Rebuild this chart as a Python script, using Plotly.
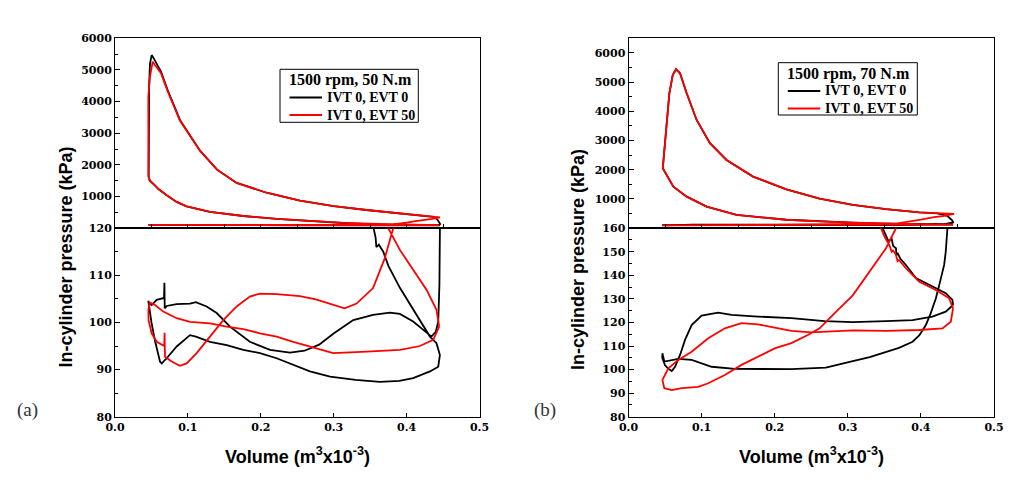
import plotly.graph_objects as go

# ---------------- data (volume in m3 x10^-3, pressure in kPa) ----------------
a_black_v = [0.4457, 0.441, 0.432, 0.4137, 0.391, 0.375, 0.368, 0.362, 0.3585, 0.3575, 0.3547,
             0.313, 0.2674, 0.2217, 0.176, 0.1303, 0.0983, 0.0846, 0.0709, 0.0600, 0.0526, 0.0480,
             0.0462, 0.0462, 0.0468, 0.0480, 0.0503, 0.0535, 0.0580, 0.0631, 0.0722, 0.0891, 0.1166,
             0.1400, 0.1669, 0.208, 0.2537, 0.2999, 0.345, 0.391, 0.4200, 0.4365, 0.4420, 0.4450,
             0.4457, 0.4457, 0.4450, 0.4434, 0.440, 0.434, 0.420, 0.409, 0.3908, 0.377, 0.354,
             0.3268, 0.2994, 0.280, 0.260, 0.240, 0.2126, 0.185, 0.1577, 0.1395, 0.1257, 0.111,
             0.1029, 0.0846, 0.0709, 0.0682, 0.0678, 0.0672, 0.0572, 0.0503, 0.0465, 0.0457, 0.050,
             0.055, 0.0617, 0.064, 0.0709, 0.0846, 0.1029, 0.111, 0.1303, 0.1532, 0.176, 0.1988,
             0.2217, 0.2445, 0.2674, 0.295, 0.330, 0.3634, 0.390, 0.409, 0.432, 0.4434, 0.4457]
a_black_p = [93.1, 95.6, 97.0, 101.6, 107.3, 112.0, 115.0, 116.5, 116.0, 118.0, 120.0,
             165, 230, 295, 385, 515, 690, 830, 1040, 1230, 1400, 1500,
             1620, 3000, 4500, 5200, 5470, 5350, 5150, 4950, 4365, 3420, 2450,
             1850, 1430, 1120, 870, 700, 575, 470, 410, 360, 280, 200,
             148, 120, 108, 100.2, 98.0, 97.0, 98.8, 100.2, 101.8, 102.1, 101.6,
             100.5, 97.6, 95.3, 94.0, 93.6, 94.2, 95.9, 99.1, 102.0, 103.4, 104.3,
             104.0, 103.9, 103.5, 103.0, 108.4, 105.2, 104.8, 103.7, 104.2, 104.6, 100.0,
             96.0, 91.7, 91.3, 92.4, 94.9, 97.3, 97.0, 95.9, 95.2, 94.2, 93.5,
             92.4, 91.0, 89.6, 88.5, 87.8, 87.4, 87.6, 88.2, 89.6, 90.6, 93.1]

a_red_v = [0.4447, 0.441, 0.4275, 0.409, 0.3908, 0.3748, 0.350, 0.313, 0.2674, 0.2217, 0.176,
           0.1303, 0.0983, 0.0846, 0.0709, 0.0600, 0.0526, 0.0475, 0.0458, 0.0457, 0.0457, 0.0480,
           0.0517, 0.0550, 0.0631, 0.0722, 0.0891, 0.1166, 0.1400, 0.1669, 0.208, 0.2537, 0.2999,
           0.345, 0.391, 0.4200, 0.4365, 0.4457, 0.4350, 0.4228, 0.410, 0.400, 0.390, 0.3817,
           0.370, 0.354, 0.3314, 0.315, 0.2994, 0.2754, 0.2537, 0.2217, 0.1988, 0.185, 0.1669,
           0.1485, 0.1303, 0.112, 0.0983, 0.0891, 0.0777, 0.0686, 0.0680, 0.0675, 0.0572, 0.0503,
           0.0460, 0.0458, 0.0480, 0.0549, 0.0662, 0.0846, 0.1029, 0.1303, 0.1532, 0.176, 0.1988,
           0.2217, 0.2445, 0.2674, 0.2994, 0.345, 0.391, 0.4183, 0.4365, 0.4447]
a_red_p = [99.1, 102.7, 106.9, 111.1, 115.4, 120.0, 140, 170, 230, 295, 385,
           515, 690, 830, 1040, 1230, 1400, 1500, 1650, 2800, 4150, 4800,
           5260, 5150, 4900, 4330, 3400, 2450, 1850, 1430, 1120, 870, 700,
           575, 470, 410, 380, 340, 295, 263, 215, 175, 140, 120,
           113.6, 107.3, 104.0, 103.0, 103.8, 104.9, 105.6, 106.0, 106.1, 105.5, 103.4,
           100.5, 97.0, 93.5, 91.3, 90.8, 91.7, 92.7, 97.8, 95.0, 95.9, 97.7,
           100.5, 102.7, 104.2, 103.7, 102.3, 100.9, 100.1, 99.8, 99.1, 98.6, 97.7,
           97.0, 95.9, 94.9, 93.5, 93.8, 94.2, 95.0, 96.3, 99.1]

b_black_v = [0.444, 0.4431, 0.434, 0.4158, 0.3932, 0.3795, 0.372, 0.368, 0.3665, 0.3659, 0.362,
             0.3600, 0.3555, 0.3477, 0.3068, 0.2614, 0.216, 0.1478, 0.1069, 0.0796, 0.0614, 0.0469,
             0.0487, 0.0523, 0.0559, 0.0605, 0.065, 0.0705, 0.0796, 0.0932, 0.1114, 0.1341, 0.1704,
             0.216, 0.2614, 0.3068, 0.3523, 0.3977, 0.4226, 0.4360, 0.4431, 0.4440, 0.4400, 0.4363,
             0.4340, 0.4318, 0.4260, 0.4205, 0.4130, 0.4068, 0.3977, 0.3886, 0.370, 0.3523, 0.330,
             0.3068, 0.290, 0.270, 0.2228, 0.1772, 0.1455, 0.1137,
             0.0864, 0.0682, 0.049, 0.0464, 0.0462, 0.050, 0.0545, 0.0592, 0.0637, 0.0705, 0.0773,
             0.0864, 0.100, 0.1227, 0.141, 0.1772, 0.2228, 0.2682, 0.3068, 0.3523, 0.3886, 0.4158,
             0.434, 0.444]
b_black_p = [127.4, 129.6, 132.4, 135.2, 138.8, 144.4, 147.0, 149.5, 148.5, 151.5, 152.5,
             155.5, 154.5, 160, 190, 235, 290, 455, 739, 1081, 1423, 2053,
             2566, 3705, 4618, 5244, 5439, 5302, 4618, 3705, 2908, 2337, 1765,
             1330, 1010, 800, 650, 540, 505, 420, 260, 200, 170, 160,
             150.0, 144.4, 137.0, 130.3, 123.5, 118.9, 114.5, 111.8, 109.2, 107.6, 105.3,
             103.6, 102.3, 100.8, 100.2, 100.3, 100.3, 101.2,
             104.1, 104.5, 103.4, 106.9, 105.0, 101.8, 100.3, 99.4, 101.2, 106.2, 112.6,
             118.9, 122.9, 124.2, 123.2, 122.5, 121.8, 120.6, 120.1, 120.6, 121.0, 122.5,
             124.6, 127.4]

b_red_v = [0.444, 0.4386, 0.4205, 0.3977, 0.3795, 0.3700, 0.3680, 0.3659, 0.3620, 0.3600, 0.3568,
           0.3500, 0.3455, 0.3068, 0.2614, 0.216, 0.1478, 0.1069, 0.0796, 0.0614, 0.0469, 0.0487,
           0.0523, 0.0559, 0.0605, 0.065, 0.0705, 0.0796, 0.0932, 0.1114, 0.1341, 0.1704, 0.216,
           0.2614, 0.3068, 0.3523, 0.3977, 0.4226, 0.4360, 0.4454, 0.4300, 0.418, 0.400, 0.380,
           0.3659, 0.3523, 0.3295, 0.3068, 0.2841, 0.2614, 0.2454, 0.2228, 0.200, 0.1772, 0.1546,
           0.1318, 0.1091, 0.0954, 0.0728, 0.0592, 0.049, 0.0464, 0.0545, 0.0682, 0.0864, 0.1091,
           0.1318, 0.1546, 0.1772, 0.200, 0.2228, 0.250, 0.3068, 0.3523, 0.3977, 0.4295, 0.4409,
           0.444]
b_red_p = [126.0, 130.3, 133.8, 137.3, 143.0, 146.5, 146.0, 148.7, 150.5, 150.0, 152.9,
           156.5, 160, 190, 235, 290, 455, 739, 1081, 1423, 2053, 2566,
           3705, 4618, 5244, 5439, 5302, 4618, 3705, 2908, 2337, 1765, 1330,
           1010, 800, 650, 540, 505, 480, 489, 410, 376, 290, 200,
           160, 151.5, 141.6, 131.5, 124.6, 117.5, 114.7, 111.2, 109.0, 105.5, 102.0,
           97.7, 94.2, 92.7, 92.1, 91.3, 92.1, 95.6, 100.5, 104.1, 107.6, 113.3,
           117.5, 119.7, 119.2, 117.8, 116.4, 115.8, 116.6, 116.4, 116.8, 117.5, 120.3,
           126.0]

series_names = ["IVT 0, EVT 0", "IVT 0, EVT 50"]
series_colors = ["#000000", "#ff0000"]
legend_titles = ["1500 rpm, 50 N.m", "1500 rpm, 70 N.m"]
upper_ticks = [1000, 2000, 3000, 4000, 5000, 6000]
a_lower_ticks = [80, 90, 100, 110, 120]
b_lower_ticks = [80, 90, 100, 110, 120, 130, 140, 150, 160]

# ---------------- figure ----------------
fig = go.Figure()

def add_pair(v, p, color, name, up, lo):
    for ax in (up, lo):
        fig.add_trace(go.Scatter(x=v, y=p, mode="lines", name=name,
                                 line=dict(color=color, width=1.8),
                                 xaxis=ax[0], yaxis=ax[1], showlegend=False))

add_pair(a_black_v, a_black_p, series_colors[0], series_names[0], ("x", "y"), ("x2", "y2"))
add_pair(a_red_v, a_red_p, series_colors[1], series_names[1], ("x", "y"), ("x2", "y2"))
add_pair(b_black_v, b_black_p, series_colors[0], series_names[0], ("x3", "y3"), ("x4", "y4"))
add_pair(b_red_v, b_red_p, series_colors[1], series_names[1], ("x3", "y3"), ("x4", "y4"))

# the page body has an 8px margin; the figure is sized so it fills the 1024x486 window
OFF = 8
W, H = 1024 - OFF, 486 - OFF
def px_x(v):
    return (v - OFF) / W
def px_y(v):
    return 1 - (v - OFF) / H

tickfont = dict(family="DejaVu Serif", size=11, color="black", weight="bold")
axis_common = dict(showline=True, linecolor="black", linewidth=1, mirror=True,
                   showgrid=False, zeroline=False, ticks="inside", tickcolor="black",
                   tickwidth=1, tickfont=tickfont, automargin=False)

xa = [px_x(115), px_x(479.5)]
xb = [px_x(628.5), px_x(994)]
y_up = [px_y(228.2), px_y(38.3)]
y_lo = [px_y(416.7), px_y(228.2)]

def upper_x(domain, anchor):
    return dict(axis_common, domain=domain, anchor=anchor, range=[0, 0.5],
                tickmode="linear", tick0=0, dtick=0.05, ticklen=4, showticklabels=False)

def lower_x(domain, anchor):
    return dict(axis_common, domain=domain, anchor=anchor, range=[0, 0.5],
                tickmode="linear", tick0=0, dtick=0.1, ticklen=4, tickformat=".1f")

def upper_y(anchor, top):
    minors = [m for m in range(500, top + 1, 1000)]
    return dict(axis_common, domain=y_up, anchor=anchor, range=[0, top],
                tickmode="array", tickvals=upper_ticks, ticklen=5,
                minor=dict(tickmode="array", tickvals=minors, ticks="inside", ticklen=3,
                           tickcolor="black", showgrid=False))

def lower_y(anchor, ticks):
    minors = [t + 5 for t in ticks[:-1]]
    return dict(axis_common, domain=y_lo, anchor=anchor, range=[ticks[0], ticks[-1]],
                tickmode="array", tickvals=ticks, ticklen=5,
                minor=dict(tickmode="array", tickvals=minors, ticks="inside", ticklen=3,
                           tickcolor="black", showgrid=False))

title_font = dict(family="Liberation Sans", size=18, color="black", weight="bold")
label_font = dict(family="Liberation Serif", size=19, color="#333333")
leg_title_font = dict(family="Liberation Serif", size=16, color="black", weight="bold")
leg_item_font = dict(family="Liberation Serif", size=14, color="black", weight="bold")

annotations = [
    dict(text="In-cylinder pressure (kPa)", x=px_x(65), y=px_y(257.5), textangle=-90,
         font=title_font, xanchor="center", yanchor="middle"),
    dict(text="In-cylinder pressure (kPa)", x=px_x(578), y=px_y(260), textangle=-90,
         font=title_font, xanchor="center", yanchor="middle"),
    dict(text="Volume (m<sup>3</sup>x10<sup>-3</sup>)", x=px_x(297), y=px_y(455),
         font=title_font, xanchor="center", yanchor="middle"),
    dict(text="Volume (m<sup>3</sup>x10<sup>-3</sup>)", x=px_x(811), y=px_y(455),
         font=title_font, xanchor="center", yanchor="middle"),
    dict(text="(a)", x=px_x(27), y=px_y(410), font=label_font, xanchor="center", yanchor="middle"),
    dict(text="(b)", x=px_x(545), y=px_y(410), font=label_font, xanchor="center", yanchor="middle"),
]
shapes = []

# legend boxes (pixel geometry of each box: left, top, right, bottom)
legend_boxes = [(280, 69.3, 418.3, 122.3), (778.3, 62.7, 917.3, 115)]
for (l, t, r, b), title in zip(legend_boxes, legend_titles):
    shapes.append(dict(type="rect", xref="paper", yref="paper",
                       x0=px_x(l), x1=px_x(r), y0=px_y(b), y1=px_y(t),
                       line=dict(color="black", width=1), fillcolor="white", layer="above"))
    annotations.append(dict(text=title, x=px_x((l + r) / 2 + 1), y=px_y(t + 11),
                            font=leg_title_font, xanchor="center", yanchor="middle"))
    for k, (name, color) in enumerate(zip(series_names, series_colors)):
        yy = t + 28.2 + 17.6 * k
        shapes.append(dict(type="line", xref="paper", yref="paper",
                           x0=px_x(l + 9.5), x1=px_x(l + 42), y0=px_y(yy), y1=px_y(yy),
                           line=dict(color=color, width=2), layer="above"))
        annotations.append(dict(text=name, x=px_x(l + 45), y=px_y(yy),
                                font=leg_item_font, xanchor="left", yanchor="middle"))

for an in annotations:
    an.update(xref="paper", yref="paper", showarrow=False)

fig.update_layout(
    width=W, height=H, margin=dict(l=0, r=0, t=0, b=0, autoexpand=False),
    paper_bgcolor="white", plot_bgcolor="white",
    xaxis=upper_x(xa, "y"), yaxis=upper_y("x", 6000),
    xaxis2=lower_x(xa, "y2"), yaxis2=lower_y("x2", a_lower_ticks),
    xaxis3=upper_x(xb, "y3"), yaxis3=upper_y("x3", 6500),
    xaxis4=lower_x(xb, "y4"), yaxis4=lower_y("x4", b_lower_ticks),
    annotations=annotations, shapes=shapes,
    showlegend=False,
)

fig.write_html("out.html")
